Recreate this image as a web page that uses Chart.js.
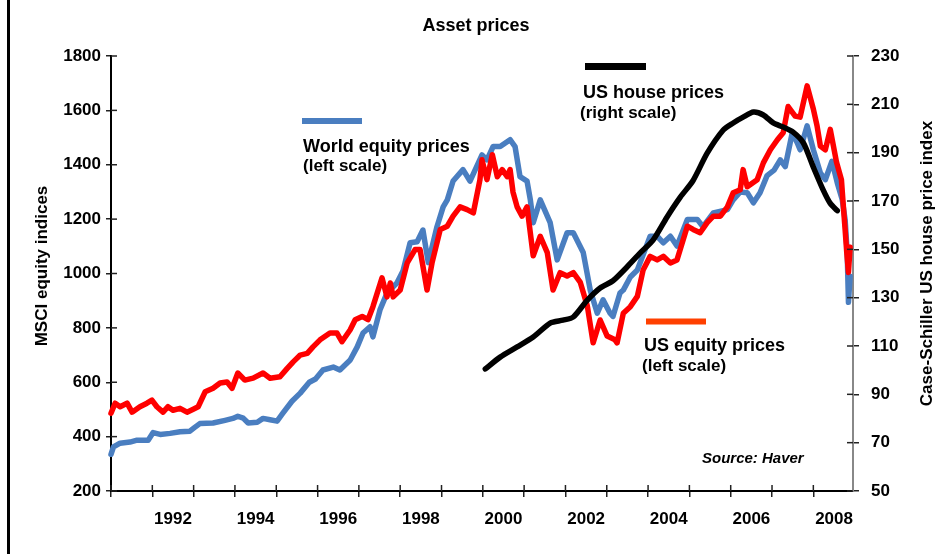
<!DOCTYPE html>
<html>
<head>
<meta charset="utf-8">
<title>Asset prices</title>
<script src="https://cdn.jsdelivr.net/npm/chart.js@4.4.1/dist/chart.umd.min.js"></script>
<style>
  html, body { margin: 0; padding: 0; background: #fff; }
  #wrap { width: 952px; height: 554px; }
</style>
</head>
<body>
<div id="wrap"><canvas id="assetChart" width="952" height="554"></canvas></div>
<script>
// --- data (x = decimal year) ---
const worldT = [1991.00, 1991.06, 1991.22, 1991.46, 1991.63, 1991.90, 1992.02, 1992.19, 1992.43, 1992.67,
  1992.91, 1993.01, 1993.15, 1993.47, 1993.76, 1993.95, 1994.07, 1994.20, 1994.32, 1994.54,
  1994.68, 1994.85, 1995.02, 1995.16, 1995.38, 1995.58, 1995.80, 1995.95, 1996.13, 1996.38,
  1996.54, 1996.79, 1996.96, 1997.10, 1997.27, 1997.34, 1997.51, 1997.68, 1997.92, 1998.07,
  1998.24, 1998.41, 1998.55, 1998.68, 1998.89, 1999.04, 1999.14, 1999.28, 1999.52, 1999.69,
  1999.98, 2000.10, 2000.25, 2000.42, 2000.66, 2000.78, 2000.90, 2001.07, 2001.15, 2001.22,
  2001.39, 2001.63, 2001.80, 2002.04, 2002.19, 2002.43, 2002.60, 2002.77, 2002.91, 2003.08,
  2003.15, 2003.32, 2003.40, 2003.57, 2003.74, 2004.05, 2004.22, 2004.37, 2004.54, 2004.70,
  2004.95, 2005.19, 2005.33, 2005.58, 2005.92, 2006.06, 2006.23, 2006.40, 2006.55, 2006.71,
  2006.88, 2007.05, 2007.20, 2007.32, 2007.49, 2007.61, 2007.68, 2007.85, 2008.00, 2008.17,
  2008.29, 2008.45, 2008.58, 2008.70, 2008.77, 2008.82, 2008.85, 2008.89];
const worldV = [335, 362, 376, 380, 387, 387, 415, 408, 412, 418,
  420, 432, 448, 450, 460, 467, 475, 468, 450, 453,
  467, 462, 457, 486, 530, 560, 600, 612, 645, 656,
  645, 682, 730, 781, 804, 767, 866, 928, 965, 1010,
  1113, 1117, 1160, 1040, 1172, 1245, 1271, 1340, 1382, 1340,
  1436, 1418, 1467, 1467, 1492, 1467, 1356, 1340, 1271, 1187,
  1271, 1187, 1050, 1150, 1150, 1077, 939, 854, 903, 854,
  842, 928, 939, 987, 1013, 1137, 1137, 1113, 1137, 1101,
  1199, 1199, 1172, 1223, 1235, 1271, 1300, 1297, 1260, 1297,
  1360, 1380, 1418, 1393, 1518, 1481, 1455, 1543, 1455, 1370,
  1345, 1413, 1333, 1271, 1197, 1075, 894, 990];

const usEqT = [1991.00, 1991.10, 1991.22, 1991.39, 1991.51, 1991.70, 1991.87, 1991.99, 1992.11, 1992.26,
  1992.38, 1992.50, 1992.67, 1992.84, 1992.99, 1993.11, 1993.28, 1993.47, 1993.64, 1993.81,
  1993.93, 1994.07, 1994.24, 1994.44, 1994.68, 1994.85, 1995.09, 1995.26, 1995.41, 1995.58,
  1995.75, 1995.89, 1996.06, 1996.30, 1996.47, 1996.59, 1996.79, 1996.91, 1997.08, 1997.22,
  1997.34, 1997.56, 1997.68, 1997.76, 1997.83, 1998.00, 1998.17, 1998.36, 1998.48, 1998.65,
  1998.77, 1998.97, 1999.14, 1999.28, 1999.45, 1999.62, 1999.77, 1999.93, 1999.98, 2000.10,
  2000.23, 2000.35, 2000.47, 2000.59, 2000.66, 2000.73, 2000.83, 2000.95, 2001.07, 2001.22,
  2001.39, 2001.56, 2001.70, 2001.87, 2002.04, 2002.19, 2002.36, 2002.53, 2002.67, 2002.84,
  2003.01, 2003.20, 2003.25, 2003.40, 2003.57, 2003.74, 2003.88, 2004.05, 2004.22, 2004.37,
  2004.54, 2004.70, 2004.95, 2005.09, 2005.26, 2005.43, 2005.58, 2005.75, 2005.92, 2006.06,
  2006.23, 2006.30, 2006.40, 2006.64, 2006.79, 2006.96, 2007.13, 2007.27, 2007.39, 2007.56,
  2007.68, 2007.85, 2008.00, 2008.09, 2008.17, 2008.29, 2008.41, 2008.56, 2008.68, 2008.72,
  2008.77, 2008.81, 2008.85, 2008.89];
const usEqV = [486, 523, 510, 523, 490, 510, 523, 534, 510, 490,
  510, 497, 504, 490, 501, 510, 565, 578, 597, 601,
  578, 634, 608, 615, 634, 615, 620, 650, 675, 700,
  706, 730, 756, 781, 781, 749, 793, 830, 842, 830,
  878, 984, 914, 965, 914, 939, 1039, 1088, 1088, 939,
  1039, 1162, 1174, 1211, 1245, 1235, 1223, 1345, 1418, 1345,
  1437, 1356, 1382, 1356, 1382, 1300, 1245, 1211, 1245, 1065,
  1137, 1077, 939, 1003, 991, 1003, 967, 880, 745, 829,
  770, 756, 745, 854, 878, 916, 1013, 1063, 1050, 1063,
  1039, 1050, 1174, 1162, 1150, 1187, 1211, 1211, 1245, 1297,
  1308, 1382, 1319, 1345, 1407, 1455, 1492, 1518, 1614, 1579,
  1575, 1690, 1605, 1543, 1469, 1455, 1530, 1410, 1345, 1260,
  1160, 1075, 1004, 1097];

const houseT = [2000.06, 2000.42, 2000.83, 2001.22, 2001.63, 2001.94, 2002.19, 2002.53, 2002.84, 2003.15,
  2003.49, 2003.81, 2004.12, 2004.46, 2004.78, 2005.09, 2005.43, 2005.82, 2006.06, 2006.30,
  2006.55, 2006.79, 2007.03, 2007.27, 2007.51, 2007.76, 2008.00, 2008.24, 2008.41, 2008.58];
const houseV = [100.5, 105.4, 109.6, 113.7, 119.5, 120.7, 122, 129, 134, 137,
  142.7, 148.5, 153.8, 163.4, 171.6, 178.5, 189.8, 199.4, 202.3, 204.7,
  206.8, 205.6, 202.3, 200.6, 198.5, 194, 184, 174.5, 169, 166];

const yearTicks = [1991, 1992, 1993, 1994, 1995, 1996, 1997, 1998, 1999,
  2000, 2001, 2002, 2003, 2004, 2005, 2006, 2007, 2008];
const labelledYears = [1992, 1994, 1996, 1998, 2000, 2002, 2004, 2006, 2008];

const BLUE = "#4A7EC0";
const RED = "#FF0000";
const FONT = "'Liberation Sans', Arial, sans-serif";

const toPoints = (t, v) => t.map((x, i) => ({ x, y: v[i] }));

// hand-placed key texts (baseline positions)
const notes = [
  { text: "World equity prices", x: 303, y: 152, size: 18 },
  { text: "(left scale)", x: 303, y: 171, size: 17 },
  { text: "US house prices", x: 583, y: 97.5, size: 18 },
  { text: "(right scale)", x: 580, y: 117.5, size: 17 },
  { text: "US equity prices", x: 644, y: 351, size: 18 },
  { text: "(left scale)", x: 642, y: 371, size: 17 },
];
const keyLines = [
  { x1: 302, x2: 362, y: 121, w: 6, color: BLUE },
  { x1: 585, x2: 646, y: 66.5, w: 7, color: "#000" },
  { x1: 646, x2: 706, y: 321.5, w: 6, color: "#FF4000" },
];

const decor = {
  id: "decor",
  beforeDraw(chart) {
    const ctx = chart.ctx;
    ctx.save();
    ctx.fillStyle = "#fff";
    ctx.fillRect(0, 0, chart.width, chart.height);
    ctx.fillStyle = "#000";
    ctx.fillRect(7, 0, 3, chart.height);
    ctx.restore();
  },
  afterDraw(chart) {
    const ctx = chart.ctx;
    const { x, y, y2 } = chart.scales;
    const area = chart.chartArea;
    ctx.save();

    // inner half of the tick marks (they cross the axes)
    ctx.lineWidth = 1.5;
    ctx.strokeStyle = "#222";
    x.ticks.forEach((t) => {
      const px = x.getPixelForValue(t.value);
      ctx.beginPath();
      ctx.moveTo(px, area.bottom);
      ctx.lineTo(px, area.bottom - 6);
      ctx.stroke();
    });
    y.ticks.forEach((t) => {
      const py = y.getPixelForValue(t.value);
      ctx.beginPath();
      ctx.moveTo(area.left, py);
      ctx.lineTo(area.left + 6, py);
      ctx.stroke();
    });
    y2.ticks.forEach((t) => {
      const py = y2.getPixelForValue(t.value);
      ctx.beginPath();
      ctx.moveTo(area.right - 6, py);
      ctx.lineTo(area.right, py);
      ctx.stroke();
    });

    // key lines and texts
    keyLines.forEach((k) => {
      ctx.fillStyle = k.color;
      ctx.fillRect(k.x1, k.y - k.w / 2, k.x2 - k.x1, k.w);
    });
    ctx.fillStyle = "#000";
    ctx.textAlign = "left";
    ctx.textBaseline = "alphabetic";
    notes.forEach((n) => {
      ctx.font = "bold " + n.size + "px " + FONT;
      ctx.fillText(n.text, n.x, n.y);
    });
    ctx.font = "italic bold 15px " + FONT;
    ctx.fillText("Source: Haver", 702, 463);

    // axis titles, both reading upwards
    ctx.font = "bold 17px " + FONT;
    ctx.textAlign = "center";
    ctx.textBaseline = "middle";
    ctx.translate(42, 266);
    ctx.rotate(-Math.PI / 2);
    ctx.fillText("MSCI equity indices", 0, 0);
    ctx.setTransform(1, 0, 0, 1, 0, 0);
    ctx.translate(927, 263.5);
    ctx.rotate(-Math.PI / 2);
    ctx.fillText("Case-Schiller US house price index", 0, 0);
    ctx.restore();
  },
};

const lineStyle = {
  pointRadius: 0,
  borderWidth: 5.5,
  fill: false,
  tension: 0,
  borderJoinStyle: "round",
  borderCapStyle: "round",
  clip: false,
};

const tickFont = { family: FONT, size: 17, weight: "bold" };

new Chart(document.getElementById("assetChart"), {
  type: "line",
  data: {
    datasets: [
      {
        ...lineStyle,
        label: "US house prices",
        data: toPoints(houseT, houseV),
        yAxisID: "y2",
        borderColor: "#000",
        tension: 0.25,
        order: 0,
      },
      {
        ...lineStyle,
        label: "US equity prices",
        data: toPoints(usEqT, usEqV),
        yAxisID: "y",
        borderColor: RED,
        order: 1,
      },
      {
        ...lineStyle,
        label: "World equity prices",
        data: toPoints(worldT, worldV),
        yAxisID: "y",
        borderColor: BLUE,
        order: 2,
      },
    ],
  },
  options: {
    responsive: false,
    animation: false,
    devicePixelRatio: 1,
    layout: { padding: 0 },
    plugins: {
      legend: { display: false },
      tooltip: { enabled: false },
      title: {
        display: true,
        text: "Asset prices",
        color: "#000",
        font: { family: FONT, size: 18, weight: "bold" },
        padding: { top: 15, bottom: 19.4 },
      },
    },
    scales: {
      x: {
        type: "linear",
        position: "bottom",
        min: 1991,
        max: 2008.96,
        afterBuildTicks: (s) => {
          s.ticks = yearTicks.map((v) => ({ value: v }));
        },
        afterFit: (s) => {
          s.height = 63;
        },
        ticks: {
          autoSkip: false,
          maxRotation: 0,
          color: "#000",
          font: tickFont,
          padding: 12,
          labelOffset: 20.7,
          callback: (v) => (labelledYears.includes(v) ? String(v) : ""),
        },
        grid: { drawOnChartArea: false, tickLength: 6, color: "#222", lineWidth: 1.5 },
        border: { color: "#000", width: 2 },
      },
      y: {
        position: "left",
        min: 200,
        max: 1800,
        afterFit: (s) => {
          s.width = 111;
        },
        ticks: { stepSize: 200, color: "#000", font: tickFont, padding: 5, callback: (v) => String(v) },
        grid: { drawOnChartArea: false, tickLength: 5, color: "#222", lineWidth: 1.5 },
        border: { color: "#000", width: 2 },
      },
      y2: {
        position: "right",
        min: 50,
        max: 230,
        afterFit: (s) => {
          s.width = 99;
        },
        ticks: { stepSize: 20, color: "#000", font: tickFont, padding: 12, callback: (v) => String(v) },
        grid: { drawOnChartArea: false, tickLength: 6, color: "#222", lineWidth: 1.5 },
        border: { color: "#888", width: 2 },
      },
    },
  },
  plugins: [decor],
});
</script>
</body>
</html>
